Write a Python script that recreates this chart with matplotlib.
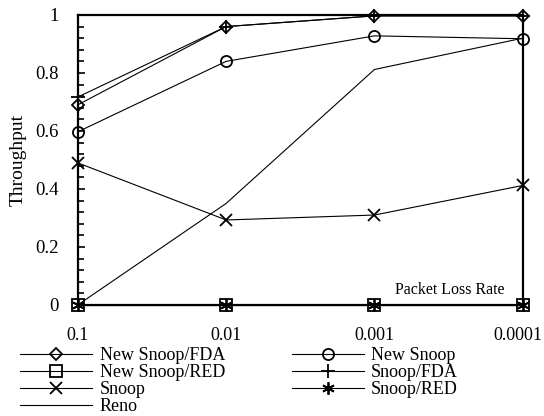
import matplotlib.pyplot as plt
from matplotlib.transforms import ScaledTranslation

plt.rcParams['font.family'] = ['Liberation Serif', 'DejaVu Serif']

# loss rates on the x axis (categorical, equal spacing)
loss_rates = ['0.1', '0.01', '0.001', '0.0001']
y_ticks = [0, 0.2, 0.4, 0.6, 0.8, 1]
y_ticklabels = ['0', '0.2', '0.4', '0.6', '0.8', '1']

new_snoop_fda = [0.69, 0.96, 0.997, 0.997]
new_snoop = [0.597, 0.84, 0.928, 0.918]
new_snoop_red = [0.0, 0.0, 0.0, 0.0]
snoop_fda = [0.717, 0.96, 0.997, 0.997]
snoop = [0.49, 0.293, 0.31, 0.412]
snoop_red = [0.0, 0.0, 0.0, 0.0]
reno = [0.0, 0.35, 0.812, 0.92]

series = [
    ('New Snoop/FDA', new_snoop_fda, 'D', 6.5),
    ('New Snoop/RED', new_snoop_red, 's', 8),
    ('Snoop', snoop, 'x', 9),
    ('Reno', reno, None, 0),
    ('New Snoop', new_snoop, 'o', 8),
    ('Snoop/FDA', snoop_fda, '+', 10),
    ('Snoop/RED', snoop_red, (6, 2, 0), 9),
]

fig = plt.figure(figsize=(5.44, 4.16), dpi=100)
ax = fig.add_axes([0.143, 0.267, 0.818, 0.697])

x = list(range(len(loss_rates)))
for label, vals, mk, ms in series:
    ax.plot(x, vals, color='black', lw=0.8, marker=mk, markersize=ms,
            markerfacecolor='none', markeredgecolor='black', markeredgewidth=1.3,
            label=label, clip_on=False, zorder=3)

ax.set_xlim(0, 3)
ax.set_ylim(0, 1)
ax.set_xticks(x)
ax.set_xticklabels(loss_rates)
ax.set_yticks(y_ticks)
ax.set_yticklabels(y_ticklabels)
ax.set_yticks([i * 0.04 for i in range(26)], minor=True)
ax.tick_params(axis='x', length=0, pad=16, labelsize=13)
ax.tick_params(axis='y', which='major', direction='in', length=5, width=1.2,
               labelsize=13.5, pad=14)
ax.tick_params(axis='y', which='minor', direction='in', length=4, width=1.2)
for s in ax.spines.values():
    s.set_linewidth(1.6)

# last x label sits a little left in the original
last = ax.get_xticklabels()[-1]
last.set_transform(last.get_transform() + ScaledTranslation(-5 / 100, 0, fig.dpi_scale_trans))

ax.set_ylabel('Throughput', fontsize=14, labelpad=6)
ax.text(0.96, 0.05, 'Packet Loss Rate', transform=ax.transAxes,
        ha='right', va='center', fontsize=11.5)

fig.legend(loc='upper left', bbox_to_anchor=(0.037, 0.165), ncol=2,
           frameon=False, fontsize=13, handlelength=4, labelspacing=0.0,
           columnspacing=3.7, handletextpad=0.4, borderpad=0, borderaxespad=0)

fig.savefig('out.png', dpi=100)
